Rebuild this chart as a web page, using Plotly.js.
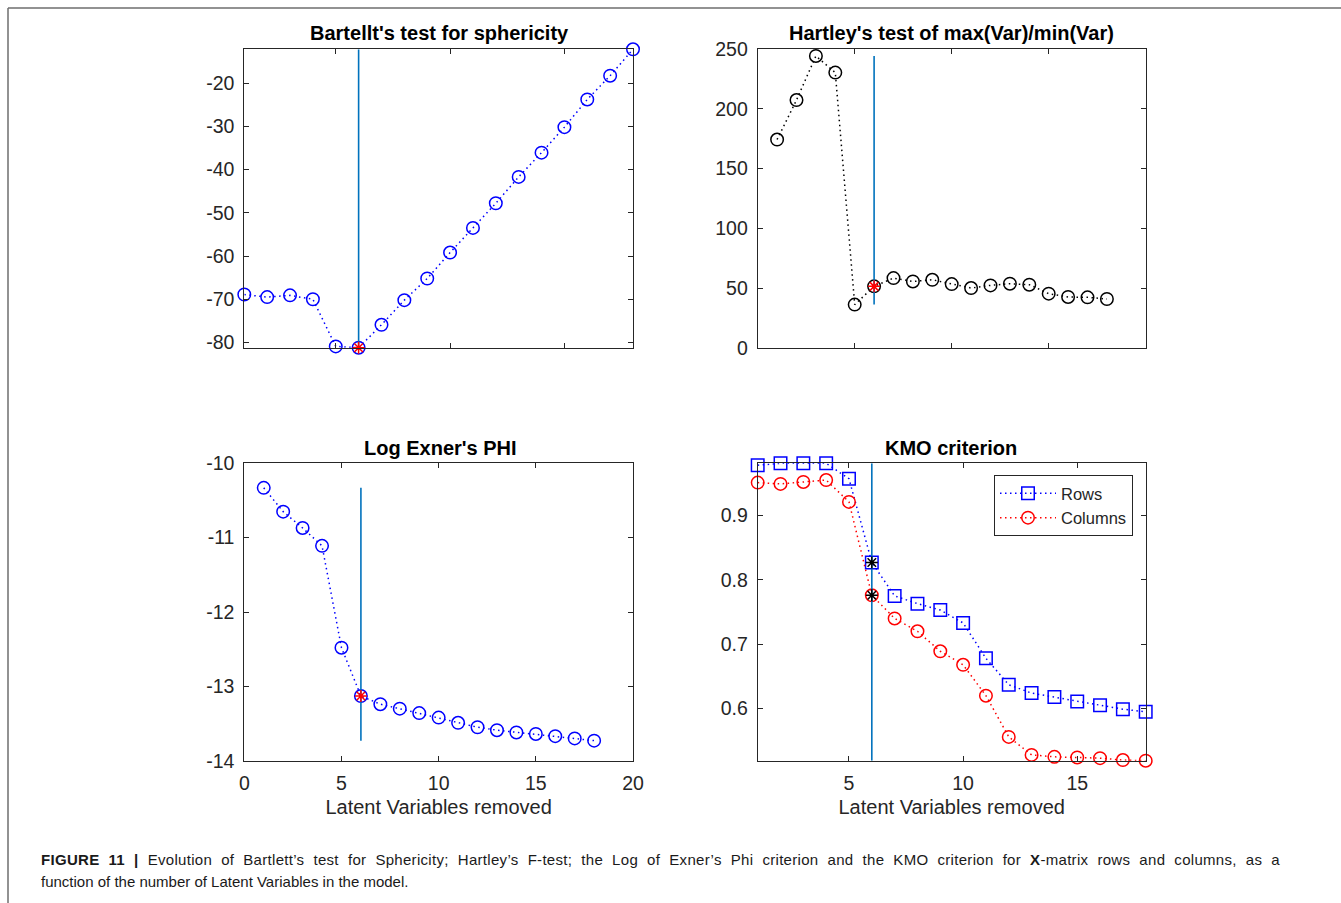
<!DOCTYPE html>
<html>
<head>
<meta charset="utf-8">
<script src="https://cdn.plot.ly/plotly-3.0.1.min.js"></script>
<style>
html,body{margin:0;padding:0;background:#fff;}
#wrap{position:relative;width:1341px;height:903px;overflow:hidden;}
#chart{position:absolute;left:0;top:0;width:1341px;height:903px;}
#caption{position:absolute;left:41px;top:849px;width:1239px;font-family:Arial,'Liberation Sans',Helvetica,sans-serif;font-size:15px;color:#1a1a1a;line-height:22px;}
#caption .l1{text-align:justify;text-align-last:justify;white-space:nowrap;letter-spacing:0.3px;}
</style>
</head>
<body>
<div id="wrap">
<div id="chart"></div>
<div id="caption"></div>
</div>
<script>
// ---- data ----
const latentVars = [1,2,3,4,5,6,7,8,9,10,11,12,13,14,15,16,17,18];
const bartlett = [-68.9,-69.5,-69.1,-70.0,-80.9,-81.2,-75.9,-70.2,-65.2,-59.2,-53.5,-47.8,-41.7,-36.1,-30.2,-23.8,-18.3,-12.2];
const hartley = [174.4,207.5,244.4,230.5,36.1,51.4,58.3,55.5,56.9,53.3,50.0,52.2,53.6,52.8,45.3,42.5,42.2,40.8];
const exnerLog = [-10.33,-10.65,-10.87,-11.11,-12.48,-13.13,-13.24,-13.30,-13.36,-13.42,-13.49,-13.55,-13.59,-13.62,-13.64,-13.67,-13.70,-13.73];
const kmoRows = [0.978,0.981,0.981,0.981,0.957,0.827,0.775,0.763,0.753,0.733,0.678,0.637,0.624,0.618,0.611,0.605,0.599,0.595];
const kmoCols = [0.951,0.949,0.952,0.955,0.921,0.776,0.740,0.720,0.689,0.668,0.620,0.556,0.528,0.525,0.524,0.523,0.520,0.519];
const selectedLV = 6;
const panelTitles = ["Bartellt's test for sphericity","Hartley's test of max(Var)/min(Var)","Log Exner's PHI","KMO criterion"];
const xTitle = "Latent Variables removed";
const seriesNames = ["Rows","Columns"];
const ticksBartlett = [-80,-70,-60,-50,-40,-30,-20];
const ticksHartley = [0,50,100,150,200,250];
const ticksExner = [-14,-13,-12,-11,-10];
const ticksKmo = [0.6,0.7,0.8,0.9];
const ticksX20 = [0,5,10,15,20];
const ticksX18 = [5,10,15];
const captionLine1 = "<b>FIGURE 11 |</b> Evolution of Bartlett’s test for Sphericity; Hartley’s F-test; the Log of Exner’s Phi criterion and the KMO criterion for <b>X</b>-matrix rows and columns, as a";
const captionLine2 = "function of the number of Latent Variables in the model.";

document.getElementById('caption').innerHTML = '<div class="l1">' + captionLine1 + '</div><div>' + captionLine2 + '</div>';

// ---- helpers ----
const W = 1341, H = 903;
const px = v => v / W;
const py = v => 1 - v / H;
const mn = a => Math.min(...a), mx = a => Math.max(...a);
const iSel = latentVars.indexOf(selectedLV);
const FONT = "Arial, 'Liberation Sans', Helvetica, sans-serif";
const BLUE = '#0000ff', RED = '#ff0000', BLACK = '#000000', VLINE = '#0072bd';
const DOTS = '1.5px,3.5px';

function series(xa, ya, y, color, symbol, name, show) {
  return {x: latentVars, y: y, xaxis: xa, yaxis: ya, type: 'scatter', mode: 'lines+markers',
    name: name || '', showlegend: !!show, cliponaxis: false,
    line: {color: color, width: 1.5, dash: DOTS},
    marker: {symbol: symbol, size: 12.5, color: color, line: {color: color, width: 1.5}}};
}
function vline(xa, ya, y0, y1) {
  return {x: [selectedLV, selectedLV], y: [y0, y1], xaxis: xa, yaxis: ya, type: 'scatter', mode: 'lines',
    showlegend: false, cliponaxis: false, line: {color: VLINE, width: 1.6}, hoverinfo: 'skip'};
}
function highlight(xa, ya, yv, color) {
  return {x: [selectedLV], y: [yv], xaxis: xa, yaxis: ya, type: 'scatter', mode: 'markers',
    showlegend: false, cliponaxis: false,
    marker: {symbol: 'asterisk-open', size: 10, color: color, line: {color: color, width: 1.5}}};
}

const traces = [
  series('x', 'y', bartlett, BLUE, 'circle-open'),
  vline('x', 'y', mn(bartlett), mx(bartlett)),
  highlight('x', 'y', bartlett[iSel], RED),

  series('x2', 'y2', hartley, BLACK, 'circle-open'),
  vline('x2', 'y2', mn(hartley), mx(hartley)),
  highlight('x2', 'y2', hartley[iSel], RED),

  series('x3', 'y3', exnerLog, BLUE, 'circle-open'),
  vline('x3', 'y3', mn(exnerLog), mx(exnerLog)),
  highlight('x3', 'y3', exnerLog[iSel], RED),

  series('x4', 'y4', kmoRows, BLUE, 'square-open', seriesNames[0], true),
  series('x4', 'y4', kmoCols, RED, 'circle-open', seriesNames[1], true),
  vline('x4', 'y4', mn(kmoCols), mx(kmoRows)),
  highlight('x4', 'y4', kmoRows[iSel], BLACK),
  highlight('x4', 'y4', kmoCols[iSel], BLACK)
];

const axBase = {showline: true, linecolor: '#262626', linewidth: 1, mirror: 'ticks', ticks: 'inside',
  ticklen: 5, tickcolor: '#262626', showgrid: false, zeroline: false, ticklabelstandoff: 5,
  tickfont: {family: FONT, size: 19.5, color: '#262626'}, fixedrange: true};
function ax(o) { return Object.assign({}, axBase, o); }
function tk(vals, fmt) { return {tickvals: vals, ticktext: vals.map(v => fmt ? v.toFixed(fmt) : String(v))}; }

const colL = [244.3, 633], colR = [757.7, 1145.7];
const rowT = [49.3, 347.7], rowB = [463.3, 760.7];

const xTitleObj = {text: xTitle, font: {family: FONT, size: 20, color: '#262626'}, standoff: 6};
const titleFont = {family: FONT, size: 20, color: '#000'};
function ttl(t, x, y) {
  return {text: '<b>' + t + '</b>', x: px(x), y: py(y), xref: 'paper', yref: 'paper', xanchor: 'center', yanchor: 'middle', showarrow: false, font: titleFont};
}

const layout = {
  width: W, height: H, margin: {l: 0, r: 0, t: 0, b: 0},
  paper_bgcolor: 'rgba(0,0,0,0)', plot_bgcolor: '#fff', font: {family: FONT, color: '#262626'},
  showlegend: true,
  xaxis: ax(Object.assign({domain: [px(colL[0]), px(colL[1])], range: [latentVars[0], latentVars[latentVars.length-1]], showticklabels: false, anchor: 'y'}, tk(ticksX18))),
  yaxis: ax(Object.assign({domain: [py(rowT[1]), py(rowT[0])], range: [mn(bartlett), mx(bartlett)], anchor: 'x'}, tk(ticksBartlett))),
  xaxis2: ax(Object.assign({domain: [px(colR[0]), px(colR[1])], range: [0, 20], showticklabels: false, anchor: 'y2'}, tk(ticksX20))),
  yaxis2: ax(Object.assign({domain: [py(rowT[1]), py(rowT[0])], range: [0, 250], anchor: 'x2'}, tk(ticksHartley))),
  xaxis3: ax(Object.assign({domain: [px(colL[0]), px(colL[1])], range: [0, 20], anchor: 'y3', title: xTitleObj}, tk(ticksX20))),
  yaxis3: ax(Object.assign({domain: [py(rowB[1]), py(rowB[0])], range: [-14, -10], anchor: 'x3'}, tk(ticksExner))),
  xaxis4: ax(Object.assign({domain: [px(colR[0]), px(colR[1])], range: [latentVars[0], latentVars[latentVars.length-1]], anchor: 'y4', title: xTitleObj}, tk(ticksX18))),
  yaxis4: ax(Object.assign({domain: [py(rowB[1]), py(rowB[0])], range: [mn(kmoCols), mx(kmoRows)], anchor: 'x4'}, tk(ticksKmo, 1))),
  legend: {x: px(994), y: py(475), xanchor: 'left', yanchor: 'top', bgcolor: '#fff', bordercolor: '#262626', borderwidth: 1,
    font: {family: FONT, size: 16.5, color: '#262626'}, itemwidth: 56, tracegroupgap: 0},
  annotations: [
    ttl(panelTitles[0], 439, 33),
    ttl(panelTitles[1], 951, 33),
    ttl(panelTitles[2], 440, 448),
    ttl(panelTitles[3], 951, 448)
  ],
  shapes: [
    {type: 'line', xref: 'paper', yref: 'paper', x0: px(8), x1: 1, y0: py(8), y1: py(8), line: {color: '#6e6e6e', width: 1.5}},
    {type: 'line', xref: 'paper', yref: 'paper', x0: px(8), x1: px(8), y0: py(8), y1: 0, line: {color: '#6e6e6e', width: 1.5}}
  ]
};

Plotly.newPlot('chart', traces, layout, {displayModeBar: false, staticPlot: true});
</script>
</body>
</html>
